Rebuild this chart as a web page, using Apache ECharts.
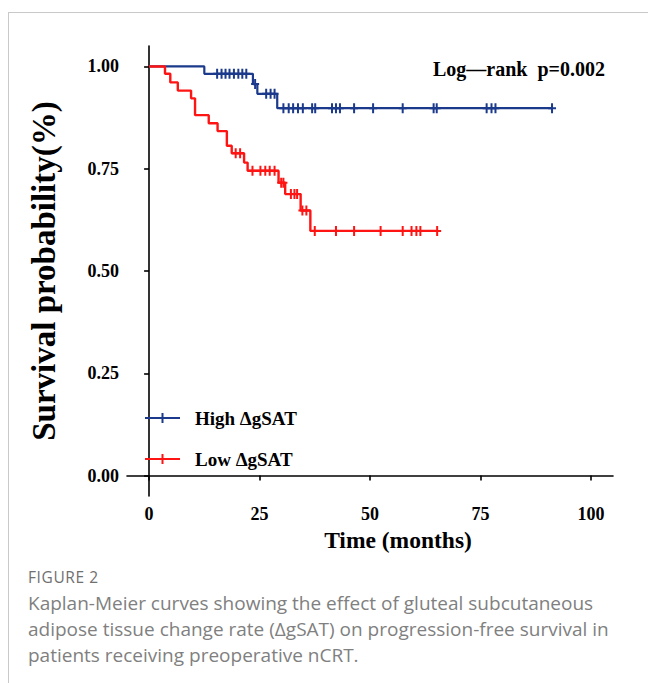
<!DOCTYPE html>
<html>
<head>
<meta charset="utf-8">
<script src="https://cdn.jsdelivr.net/npm/echarts@6/dist/echarts.min.js"></script>
<style>
  html, body { margin: 0; padding: 0; background: #fff; }
  #frame { position: absolute; left: 8px; top: 12px; width: 640px; height: 671px;
           border-left: 1px solid #c9c9c9; border-top: 1px solid #c9c9c9; }
  #chart { position: absolute; left: 0; top: 0; width: 648px; height: 560px; }
  #caption { position: absolute; left: 28px; top: 568px; width: 620px; white-space: nowrap;
             font-family: 'Open Sans', sans-serif; color: #808080; }
  #caption .fig { font-size: 15.5px; line-height: 18px; letter-spacing: 0.6px; color: #707070; }
  #caption .txt { font-size: 19px; line-height: 26px; margin-top: 4px; }
</style>
</head>
<body>
<div id="frame"></div>
<div id="chart"></div>
<div id="caption">
  <div class="fig">FIGURE 2</div>
  <div class="txt">Kaplan-Meier curves showing the effect of gluteal subcutaneous<br>adipose tissue change rate (ΔgSAT) on progression-free survival in<br>patients receiving preoperative nCRT.</div>
</div>
<script>
// 数据：Kaplan-Meier 曲线（时间 / 生存率），删失点时间
const highTimes = [0, 12.5, 23.5, 24.5, 29.0, 91.2];
const highSurv  = [1.0, 0.982, 0.957, 0.933, 0.898, 0.898];
const highCensor = [15.4, 16.4, 17.3, 18.2, 19.2, 20.2, 21.1, 22.0, 24.0,
                    26.5, 27.5, 28.4,
                    30.4, 31.6, 32.6, 33.7, 34.8, 36.9, 37.6, 41.4, 42.3, 43.2,
                    46.4, 50.7, 57.4, 64.4, 65.1, 76.4, 77.5, 78.4, 91.2];

const lowTimes = [0, 3.6, 4.8, 6.5, 9.5, 10.4, 13.5, 15.5, 17.6, 18.7, 21.5, 22.3, 29.3, 30.8, 34.3, 36.5, 65.2];
const lowSurv  = [1.0, 0.982, 0.961, 0.941, 0.922, 0.881, 0.861, 0.842, 0.806, 0.788, 0.765, 0.745, 0.716, 0.688, 0.648, 0.598, 0.598];
const lowCensor = [19.6, 20.6, 23.4, 25.2, 26.3, 27.3, 28.4, 29.9, 30.4,
                   32.1, 32.9, 33.5, 34.7, 35.6,
                   37.5, 42.3, 46.4, 52.4, 57.4, 59.4, 60.5, 61.4, 65.2];

const xTicks = [0, 25, 50, 75, 100];
const yTicks = [0, 0.25, 0.5, 0.75, 1];

const FONT = 'Liberation Serif';
const BLUE = '#1B3A8C';
const RED = '#FF1414';

// 删失点的 y 值取自阶梯函数
function survAt(times, surv, t) {
    let s = surv[0];
    for (let i = 0; i < times.length; i++) {
        if (times[i] <= t) s = surv[i];
    }
    return s;
}
const toLine = (times, surv) => times.map((t, i) => [t, surv[i]]);
const toCensor = (times, surv, cens) => cens.map(t => [t, survAt(times, surv, t)]);

const plusSymbol = 'path://M3.0,0H5.0V4H8V6H5.0V10H3.0V6H0V4H3.0Z';
const legendIcon = 'path://M0,4H35V6H0Z M16.5,0H18.5V10H16.5Z';

const chart = echarts.init(document.getElementById('chart'), null, { renderer: 'svg' });

const axisCommon = {
    type: 'value',
    axisLine: { show: true, lineStyle: { color: '#000', width: 1.6 } },
    axisTick: { show: true, length: 5, lineStyle: { color: '#000', width: 1.6 } },
    splitLine: { show: false },
    nameLocation: 'middle',
    nameTextStyle: { fontFamily: FONT, fontWeight: 'bold', color: '#000' }
};

chart.setOption({
    animation: false,
    title: {
        text: 'Log\u2014rank  p=0.002',
        right: 43, top: 59, padding: 0,
        textStyle: { fontFamily: FONT, fontWeight: 'bold', fontSize: 20, color: '#000' }
    },
    legend: {
        orient: 'vertical',
        left: 145, top: 408, padding: 0,
        itemWidth: 35, itemHeight: 10, itemGap: 21,
        textStyle: { fontFamily: FONT, fontWeight: 'bold', fontSize: 19, color: '#000',
                     lineHeight: 20, padding: [0, 0, 0, 10] },
        data: [
            { name: 'High ΔgSAT', icon: legendIcon },
            { name: 'Low ΔgSAT', icon: legendIcon }
        ]
    },
    grid: { left: 127, top: 46, width: 486, height: 450 },
    xAxis: Object.assign({}, axisCommon, {
        min: -5, max: 105,
        name: 'Time (months)', nameGap: 28,
        nameTextStyle: Object.assign({}, axisCommon.nameTextStyle,
                                     { fontSize: 23.5, padding: [0, 0, 0, 56] }),
        axisTick: Object.assign({}, axisCommon.axisTick, { customValues: xTicks }),
        axisLabel: { customValues: xTicks, margin: 9, fontFamily: FONT, fontWeight: 'bold',
                     fontSize: 18, color: '#000' }
    }),
    yAxis: Object.assign({}, axisCommon, {
        min: -0.05, max: 1.05,
        name: 'Survival probability(%)', nameGap: 67,
        nameTextStyle: Object.assign({}, axisCommon.nameTextStyle, { fontSize: 33 }),
        axisTick: Object.assign({}, axisCommon.axisTick, { customValues: yTicks }),
        axisLabel: { customValues: yTicks, margin: 8, fontFamily: FONT, fontWeight: 'bold',
                     fontSize: 18, color: '#000', formatter: v => v.toFixed(2) }
    }),
    series: [
        {
            name: 'High ΔgSAT', type: 'line', step: 'end', symbol: 'none',
            data: toLine(highTimes, highSurv),
            itemStyle: { color: BLUE }, lineStyle: { color: BLUE, width: 2.2 }
        },
        {
            name: 'High ΔgSAT', type: 'scatter', symbol: plusSymbol, symbolSize: [8, 10],
            data: toCensor(highTimes, highSurv, highCensor),
            itemStyle: { color: BLUE, opacity: 1 }
        },
        {
            name: 'Low ΔgSAT', type: 'line', step: 'end', symbol: 'none',
            data: toLine(lowTimes, lowSurv),
            itemStyle: { color: RED }, lineStyle: { color: RED, width: 2.4 }
        },
        {
            name: 'Low ΔgSAT', type: 'scatter', symbol: plusSymbol, symbolSize: [8, 10],
            data: toCensor(lowTimes, lowSurv, lowCensor),
            itemStyle: { color: RED, opacity: 1 }
        }
    ]
});
</script>
</body>
</html>
